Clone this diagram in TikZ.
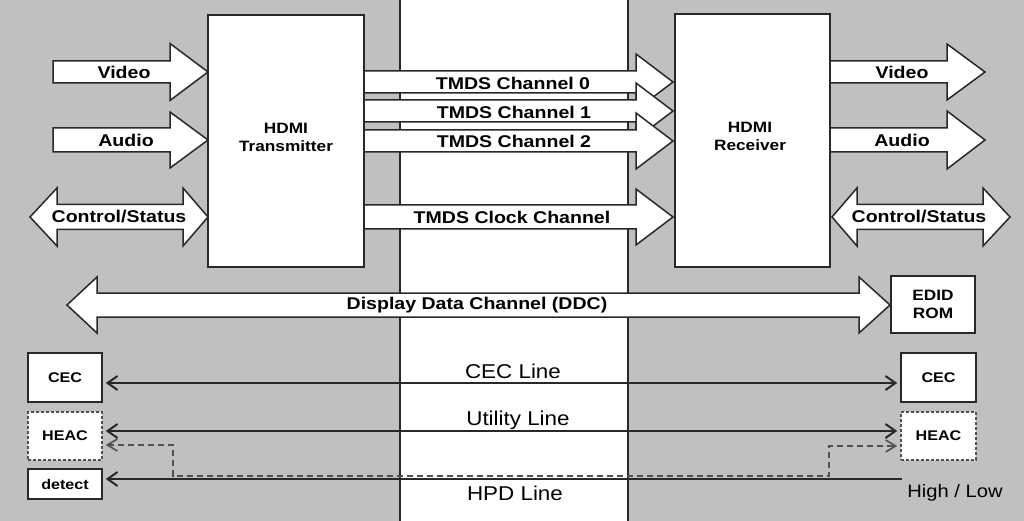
\documentclass[tikz,border=0pt]{standalone}
\usepackage{fontspec}
\newfontfamily\lbf{Liberation Sans}[FakeStretch=1.15]
\newfontfamily\lrf{Liberation Sans}[FakeStretch=1.12]
\usetikzlibrary{arrows.meta}
\definecolor{bggray}{RGB}{192,192,192}
\definecolor{ink}{RGB}{40,40,40}
\definecolor{dashgray}{RGB}{80,80,80}
\tikzset{
  blk/.style={draw=ink, line width=1.5pt, fill=white, line join=miter},
  box/.style={draw=ink, line width=1.6pt, fill=white, inner sep=0pt, align=center},
  dbox/.style={box, draw=dashgray, dash pattern=on 3pt off 2pt},
  big/.style={font=\lbf\bfseries\fontsize{17}{19}\selectfont, inner sep=0pt},
  mid/.style={font=\lbf\bfseries\fontsize{15}{18}\selectfont, align=center},
  lin/.style={font=\lrf\fontsize{20}{22}\selectfont, inner sep=0pt},
  sig/.style={draw=ink, line width=2pt, arrows={Straight Barb[length=10pt,width=14pt]-Straight Barb[length=10pt,width=14pt]}},
  dsig/.style={draw=dashgray, line width=1.6pt, dash pattern=on 6pt off 4pt, arrows={Straight Barb[length=10pt,width=12pt]-Straight Barb[length=10pt,width=12pt]}},
}
% right block arrow: tail x, head base x, tip x, centre y, shaft half, head half
\newcommand\rblk[6]{\draw[blk] (#1,{#4-#5}) -- (#2,{#4-#5}) -- (#2,{#4-#6}) -- (#3,#4) -- (#2,{#4+#6}) -- (#2,{#4+#5}) -- (#1,{#4+#5}) -- cycle;}
% double block arrow: left tip, left base, right base, right tip, centre y, shaft half, head half
\newcommand\dblk[7]{\draw[blk] (#1,#5) -- (#2,{#5-#7}) -- (#2,{#5-#6}) -- (#3,{#5-#6}) -- (#3,{#5-#7}) -- (#4,#5) -- (#3,{#5+#7}) -- (#3,{#5+#6}) -- (#2,{#5+#6}) -- (#2,{#5+#7}) -- cycle;}
\begin{document}
\begin{tikzpicture}[x=1pt,y=-1pt]
\useasboundingbox (0,0) rectangle (1024,521);
\fill[bggray] (0,0) rectangle (1024,521);
\fill[white] (400,0) rectangle (628,521);
\draw[ink, line width=2pt] (400,0) -- (400,521);
\draw[ink, line width=2pt] (628,0) -- (628,521);

% main boxes
\node[box, minimum width=156pt, minimum height=252pt] (tx) at (286,141) {};
\node[mid] (txl) at (286,137) {HDMI\\Transmitter};
\node[box, minimum width=155pt, minimum height=253pt] (rx) at (752.5,140.5) {};
\node[mid] (rxl) at (750,136) {HDMI\\Receiver};

% left inputs
\rblk{53}{170}{208}{72}{11}{28.5}
\node[big] (vinL) at (124,72) {Video};
\rblk{53}{170}{208}{140}{12}{28}
\node[big] (ainL) at (126,140) {Audio};
\dblk{30}{57}{183}{208}{217}{12.5}{29}
\node[big] (csL) at (119,217) {Control/Status};

% right outputs
\rblk{830}{947}{985}{72}{11}{28}
\node[big] (voutR) at (902,72) {Video};
\rblk{830}{947}{985}{140}{12}{29}
\node[big] (aoutR) at (902,140) {Audio};
\dblk{832}{857}{983}{1010}{217}{12.5}{29}
\node[big] (csR) at (919,217) {Control/Status};

% TMDS channels
\rblk{364}{636}{673}{82}{11}{28}
\node[big] (t0) at (513,83) {TMDS Channel 0};
\rblk{364}{636}{673}{111}{11}{28}
\node[big] (t1) at (514,112) {TMDS Channel 1};
\rblk{364}{636}{673}{141}{11}{28}
\node[big] (t2) at (514,141) {TMDS Channel 2};
\rblk{364}{636}{673}{217}{12}{28}
\node[big] (tc) at (512,217) {TMDS Clock Channel};

% DDC
\dblk{67}{97}{859}{890}{305}{12}{28}
\node[big] (ddc) at (477,305) {Display Data Channel (DDC)};
\node[box, mid, minimum width=84pt, minimum height=57pt] (edid) at (933,304.5) {EDID\\ROM};

% small boxes
\node[box, font=\lbf\bfseries\fontsize{14}{16}\selectfont, minimum width=74pt, minimum height=49pt] (cecL) at (65,377.5) {CEC};
\node[dbox, font=\lbf\bfseries\fontsize{14}{16}\selectfont, minimum width=74pt, minimum height=48pt] (heacL) at (65,436) {HEAC};
\node[box, font=\lbf\bfseries\fontsize{14}{16}\selectfont, minimum width=74pt, minimum height=30pt] (det) at (65,484) {detect};
\node[box, font=\lbf\bfseries\fontsize{14}{16}\selectfont, minimum width=75pt, minimum height=49pt] (cecR) at (938.5,377.5) {CEC};
\node[dbox, font=\lbf\bfseries\fontsize{14}{16}\selectfont, minimum width=75pt, minimum height=48pt] (heacR) at (938.5,436) {HEAC};

% lines
\draw[sig, shorten <=3pt, shorten >=3pt] (cecL.east |- 0,383) -- (cecR.west |- 0,383);
\draw[sig, shorten <=3pt, shorten >=3pt] (heacL.east |- 0,431) -- (heacR.west |- 0,431);
\coordinate (hpdR) at (902,479);
\draw[sig, arrows={Straight Barb[length=10pt,width=14pt]-}, shorten <=3pt] (det.east |- 0,479) -- (hpdR);
\draw[dsig, shorten <=3pt, shorten >=3pt] (heacL.east |- 0,445) -- (173,445) -- (173,476) -- (829,476) -- (829,446) -- (heacR.west |- 0,446);

\node[lin] (cecl) at (513,371) {CEC Line};
\node[lin] (utl) at (518,420) {Utility Line};
\node[lin] (hpdl) at (515,493) {HPD Line};
\node[font=\lrf\fontsize{18}{20}\selectfont, inner sep=0pt] (hl) at (955,493) {High / Low};
\end{tikzpicture}
\end{document}
